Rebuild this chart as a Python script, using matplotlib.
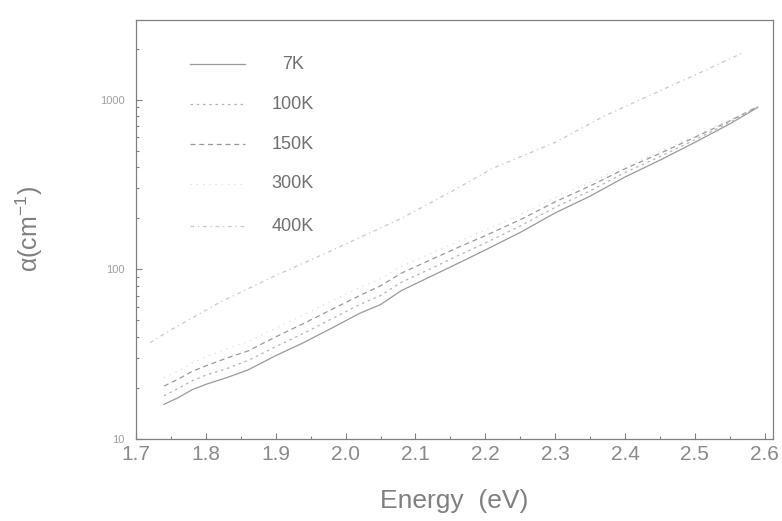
import matplotlib.pyplot as plt
from matplotlib.ticker import FixedLocator, LogLocator, NullFormatter

plt.rcParams['font.family'] = ['Liberation Sans', 'DejaVu Sans']

# photon energy (eV)
energy = [1.74, 1.76, 1.78, 1.80, 1.83, 1.86, 1.90, 1.94, 1.98, 2.02, 2.05,
          2.08, 2.12, 2.16, 2.20, 2.25, 2.30, 2.35, 2.40, 2.45, 2.50, 2.55, 2.59]

# absorption coefficient alpha (cm^-1) per temperature
a_7k = [16, 17.5, 19.5, 21, 23, 25.5, 31, 37, 45, 55, 62,
        75, 90, 108, 130, 165, 215, 270, 350, 440, 560, 720, 900]
a_100k = [18, 19.8, 22, 23.8, 26, 29, 35, 42, 51, 62, 70,
          84, 100, 120, 143, 180, 232, 290, 372, 462, 580, 735, 905]
a_150k = [20.5, 22.5, 25, 27, 30, 33, 40, 48, 58, 70, 80,
          95, 113, 134, 158, 196, 250, 310, 392, 482, 600, 750, 910]
a_300k = [23, 25, 28, 30.5, 34, 37.5, 45, 54, 65, 78, 88,
          104, 123, 145, 170, 210, 265, 325, 405, 495, 610, 760, 915]

energy_400k = [1.72, 1.75, 1.82, 1.90, 1.98, 2.08, 2.15, 2.21, 2.30,
               2.37, 2.44, 2.51, 2.57]
a_400k = [37, 44, 64, 92, 129, 200, 285, 393, 560, 800, 1080, 1460, 1900]

labels = ['7K', '100K', '150K', '300K', '400K']

fig = plt.figure(figsize=(7.82, 5.21), dpi=100)
ax = fig.add_axes([0.174, 0.1574, 0.8145, 0.8042])

styles = [
    dict(color='#9a9a9a', lw=0.9, ls='-'),
    dict(color='#b4b4b4', lw=0.9, ls=(0, (2, 3))),
    dict(color='#999999', lw=0.9, ls=(0, (4, 3))),
    dict(color='#dddddd', lw=0.9, ls=(0, (1, 4))),
    dict(color='#c8c8c8', lw=0.9, ls=(0, (3, 3, 1, 3))),
]

ax.plot(energy, a_7k, **styles[0])
ax.plot(energy, a_100k, **styles[1])
ax.plot(energy, a_150k, **styles[2])
ax.plot(energy, a_300k, **styles[3])
ax.plot(energy_400k, a_400k, **styles[4])

ax.set_yscale('log')
ax.set_xlim(1.7, 2.612)
ax.set_ylim(10, 2950)

# hand drawn legend keys
rows = [0.895, 0.799, 0.704, 0.609, 0.508]
for lab, st, yr in zip(labels, styles, rows):
    ax.plot([0.085, 0.171], [yr, yr], transform=ax.transAxes, **st)
    ax.text(0.246, yr, lab, transform=ax.transAxes, ha='center',
            va='center', fontsize=13, color='#707070')

xt = [1.7, 1.8, 1.9, 2.0, 2.1, 2.2, 2.3, 2.4, 2.5, 2.6]
ax.set_xticks(xt)
ax.set_xticklabels(['%.1f' % v for v in xt])
ax.xaxis.set_minor_locator(FixedLocator([v + 0.05 for v in xt[:-1]]))
ax.yaxis.set_major_locator(FixedLocator([10, 100, 1000]))
ax.set_yticklabels(['10', '100', '1000'])
ax.yaxis.set_minor_locator(LogLocator(base=10, subs=range(2, 10)))
ax.yaxis.set_minor_formatter(NullFormatter())

ax.tick_params(which='both', direction='in', color='#808080', width=0.8)
ax.tick_params(which='major', length=4)
ax.tick_params(which='minor', length=2.5)
ax.tick_params(axis='x', labelsize=15, labelcolor='#8a8a8a', pad=4)
ax.tick_params(axis='y', labelsize=8, labelcolor='#a0a0a0', pad=8)
for sp in ax.spines.values():
    sp.set_color('#808080')
    sp.set_linewidth(0.9)

ax.set_xlabel('Energy  (eV)', fontsize=19, color='#808080', labelpad=18)
ax.set_ylabel('α(cm$^{\\mathregular{-1}}$)', fontsize=18,
              color='#808080', labelpad=40)

fig.savefig('out.png', dpi=100)
